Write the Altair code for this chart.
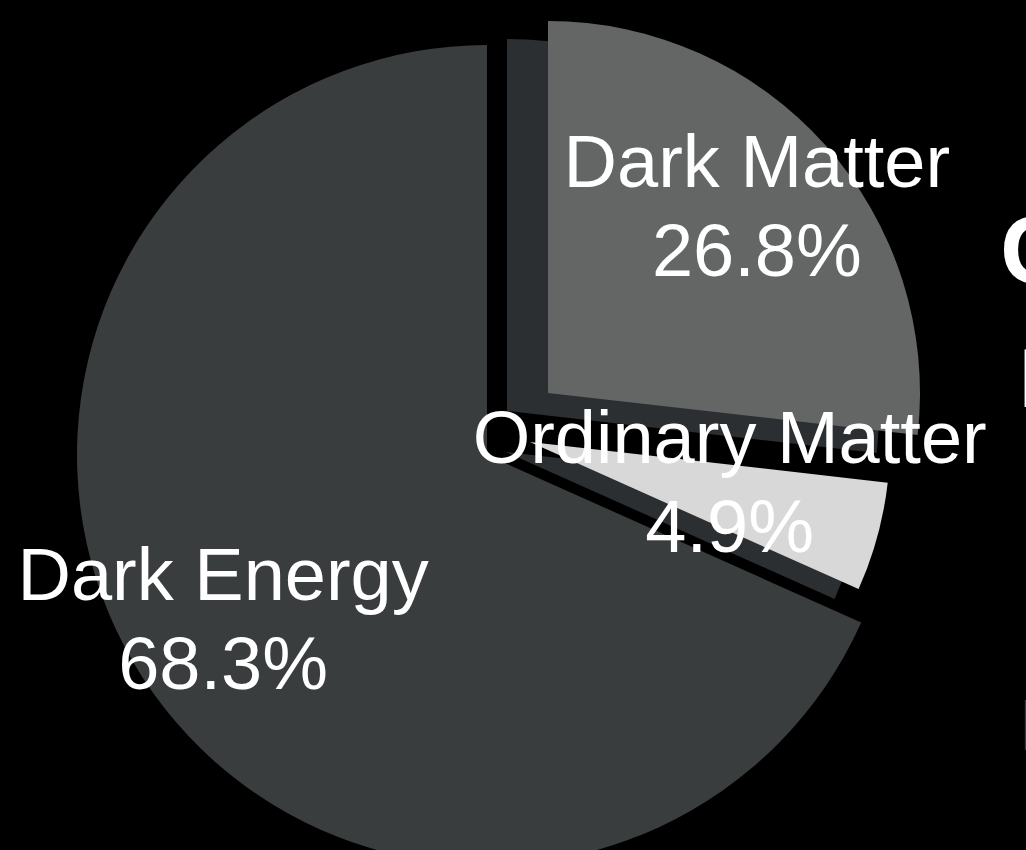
import altair as alt
import pandas as pd

categories = ["Dark Matter", "Ordinary Matter", "Dark Energy"]
values = [26.8, 4.9, 68.3]
labels = ["26.8%", "4.9%", "68.3%"]

df = pd.DataFrame({"category": categories, "value": values, "pct": labels})

TWO_PI = 6.283185307179586
theta_scale = alt.Scale(domain=[0, 100], range=[0, TWO_PI])

base = (
    alt.Chart(df)
    .transform_window(cum="sum(value)", frame=[None, 0])
    .transform_calculate(
        start="datum.cum - datum.value",
        mid="datum.cum - datum.value / 2",
        label="datum.category + '\\n' + datum.pct",
    )
)


def arc(cat, color, radius, dx, dy):
    return (
        base.transform_filter(alt.datum.category == cat)
        .mark_arc(radius=radius, fill=color, xOffset=dx, yOffset=dy, stroke=None)
        .encode(
            theta=alt.Theta("start:Q", scale=theta_scale),
            theta2="cum:Q",
        )
    )


def label(cat, radius, dx, dy):
    return (
        base.transform_filter(alt.datum.category == cat)
        .mark_text(
            radius=radius,
            xOffset=dx,
            yOffset=dy,
            dy=-44,
            font="Liberation Sans",
            fontSize=74,
            lineBreak="\n",
            lineHeight=89,
            align="center",
            baseline="middle",
            fill="white",
        )
        .encode(
            theta=alt.Theta("mid:Q", scale=theta_scale),
            text="label:N",
        )
    )


SIDE = "#2b2f31"
dm_side = arc("Dark Matter", SIDE, 372, 35 - 41, -32 + 18)
dm = arc("Dark Matter", "#636665", 372, 35, -32)
om_side = arc("Ordinary Matter", SIDE, 360, 17 - 24, 17 + 10)
om = arc("Ordinary Matter", "#d8d8d8", 360, 17, 17)
de = arc("Dark Energy", "#393d3d", 410, -26, 30)

texts = [
    label("Dark Matter", 280, 35, -30),
    label("Ordinary Matter", 207, 17, 5),
    label("Dark Energy", 318, -23, 24),
]

side_text = ["C", "I", "I"]
edge_c = (
    alt.Chart(pd.DataFrame({"t": [side_text[0]]}))
    .mark_text(font="Liberation Sans", fontWeight="bold", fontSize=97,
               align="left", baseline="alphabetic", fill="white")
    .encode(text="t:N", x=alt.value(1000), y=alt.value(283))
)
edge_i1 = (
    alt.Chart(pd.DataFrame({"t": [side_text[1]]}))
    .mark_text(font="Liberation Sans", fontWeight="bold", fontSize=84,
               align="left", baseline="alphabetic", fill="white")
    .encode(text="t:N", x=alt.value(1019), y=alt.value(407))
)
edge_i2 = (
    alt.Chart(pd.DataFrame({"t": [side_text[2]]}))
    .mark_text(font="Liberation Sans", fontWeight="bold", fontSize=72,
               align="left", baseline="alphabetic", fill="#3a3a3a")
    .encode(text="t:N", x=alt.value(1020), y=alt.value(750))
)

chart = (
    alt.layer(dm_side, dm, om_side, om, de, *texts, edge_c, edge_i1, edge_i2)
    .properties(
        width=1026,
        height=850,
        background="black",
        padding=0,
        autosize=alt.AutoSizeParams(type="none"),
    )
    .configure_view(stroke=None)
)

chart.save("out.html", embed_options={"renderer": "svg", "actions": False})
